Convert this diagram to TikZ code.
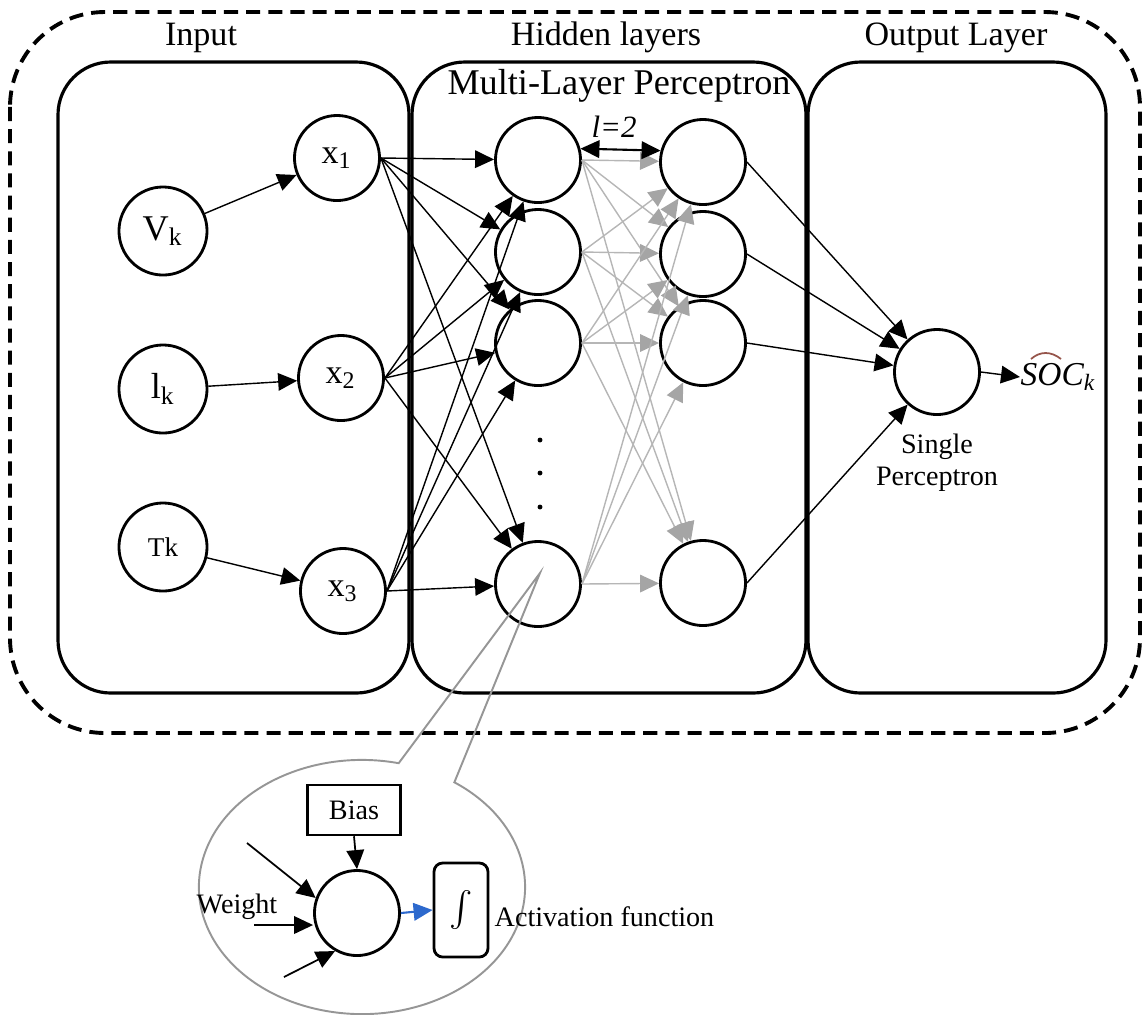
\documentclass[tikz,border=0pt]{standalone}
\usepackage{fontspec}
\setmainfont{Liberation Serif}
\usetikzlibrary{arrows.meta,calc}
\definecolor{linkgray}{RGB}{182,182,182}
\definecolor{tipgray}{RGB}{165,165,165}
\definecolor{callgray}{RGB}{150,150,150}
\definecolor{actblue}{RGB}{45,105,205}
\definecolor{hatred}{RGB}{150,85,75}
\begin{document}
\begin{tikzpicture}[x=0.01cm,y=-0.01cm,
  panel/.style={draw,line width=0.9pt,rounded corners=15pt},
  frame/.style={draw,line width=1.1pt,dash pattern=on 4pt off 2.3pt,rounded corners=27pt},
  neuron/.style={circle,draw,line width=0.8pt,minimum size=0.85cm,inner sep=0pt},
  srcneuron/.style={neuron,minimum size=0.88cm},
  tip/.style={-{Triangle[length=5.4pt,width=5pt]}},
  link/.style={line width=0.4pt,tip},
  glink/.style={line width=0.4pt,draw=linkgray,-{Triangle[length=5.4pt,width=5pt,color=tipgray]}},
  heading/.style={font=\fontsize{9.7pt}{11pt}\selectfont,anchor=base},
  lab/.style={font=\fontsize{9.7pt}{11pt}\selectfont},
  small/.style={font=\fontsize{8pt}{9.2pt}\selectfont},
  dot/.style={circle,fill,inner sep=0pt,minimum size=1.4pt}]
\useasboundingbox (0,0) rectangle (1145,1014);

% outer dashed frame and the three panels
\draw[frame] (10,12) rectangle (1140,733);
\draw[panel] (58,62) rectangle (409,693);
\draw[panel] (412,62) rectangle (806,693);
\draw[panel] (808,62) rectangle (1106,693);

% headings
\node[heading] (tin) at (201,45) {Input};
\node[heading] (thid) at (606,45) {Hidden layers};
\node[heading] (tout) at (956,45) {Output Layer};
\node[heading,font=\fontsize{10.3pt}{12pt}\selectfont] (tmlp) at (619,94) {Multi-Layer Perceptron};

% input variables
\node[srcneuron,font=\fontsize{10.3pt}{12pt}\selectfont] (vk) at (163,231) {V\textsubscript{k}};
\node[srcneuron,font=\fontsize{10.3pt}{12pt}\selectfont] (ik) at (163,389) {l\textsubscript{k}};
\node[srcneuron,font=\fontsize{7.7pt}{9pt}\selectfont] (tk) at (163,547) {Tk};

% input layer
\node[neuron,lab] (x1) at (337,158) {x\textsubscript{1}};
\node[neuron,lab] (x2) at (341,378) {x\textsubscript{2}};
\node[neuron,lab] (x3) at (343,591) {x\textsubscript{3}};

% hidden layers
\foreach \i/\y in {1/160,2/252,3/343,4/584}
  \node[neuron] (h\i) at (538,\y) {};
\foreach \i/\y in {1/162,2/254,3/343,4/583}
  \node[neuron] (g\i) at (703,\y) {};
\node[dot] (d1) at (540,440) {};
\node[dot] (d2) at (540,473) {};
\node[dot] (d3) at (540,507) {};

% output neuron and estimate
\node[neuron] (out) at (937,372) {};
\node[font=\fontsize{9.5pt}{11pt}\selectfont\itshape,inner sep=0pt,anchor=west] (soc) at (1020,377)
  {SOC\textsubscript{k}};
\draw[hatred,line width=0.5pt] (1031,359) .. controls (1040,351) and (1051,351) .. (1061,359);
\node[small,align=center] (sp) at (937,463) {Single\\Perceptron};

% connections
\draw[link] (vk) -- (x1);
\draw[link] (ik) -- (x2);
\draw[link] (tk) -- (x3);
\foreach \a in {1,2,3}
  \foreach \b in {1,2,3,4}
    \draw[link] (x\a.east) -- (h\b);
\foreach \a in {1,2,3,4}
  \foreach \b in {1,2,3,4}
    \draw[glink] (h\a.east) -- (g\b);
\foreach \a in {1,2,3,4}
  \draw[link] (g\a.east) -- (out);
\draw[link] (out.east) -- (soc.west);

% layer count
\node[font=\fontsize{8.8pt}{10pt}\selectfont] (lnum) at (614,127) {\textit{l=2}};
\draw[line width=0.6pt,{Triangle[length=5.4pt,width=5pt]}-{Triangle[length=5.4pt,width=5pt]}] (h1.15) -- (g1.165);

% callout to a single neuron
\coordinate (apex) at (540,573);
\coordinate (ec) at (362,887);
\draw[callgray,line width=0.55pt] (apex) -- ([shift={(77:1.63cm and 1.27cm)}]ec)
  arc[start angle=77,end angle=415.5,x radius=1.63cm,y radius=1.27cm] -- cycle;

% neuron detail
\node[neuron] (n) at (357,913) {};
\node[draw,line width=0.7pt,minimum width=0.93cm,minimum height=0.5cm,inner sep=0pt,small] (bias) at (354,810) {Bias};
\node[draw,line width=0.8pt,rounded corners=2.5pt,minimum width=0.54cm,minimum height=0.94cm,inner sep=0pt,
  font=\fontsize{13.5pt}{15pt}\selectfont] (act) at (461,910) {$\int$};
\node[small,anchor=west,inner sep=0pt] (actlbl) at (494,917) {Activation function};
\node[small] (wlbl) at (237,907) {Weight};
\coordinate (w1) at (247,843);
\coordinate (w2) at (254,925);
\coordinate (w3) at (284,977);
\draw[link,line width=0.5pt] (w1) -- (n.160);
\draw[link,line width=0.5pt] (w2) -- (w2 -| n.west);
\draw[link,line width=0.5pt] (w3) -- (n.240);
\draw[link,line width=0.5pt] (bias.south) -- (n.north);
\draw[actblue,line width=0.6pt,tip] (n.east) -- (act.west);
\end{tikzpicture}
\end{document}
